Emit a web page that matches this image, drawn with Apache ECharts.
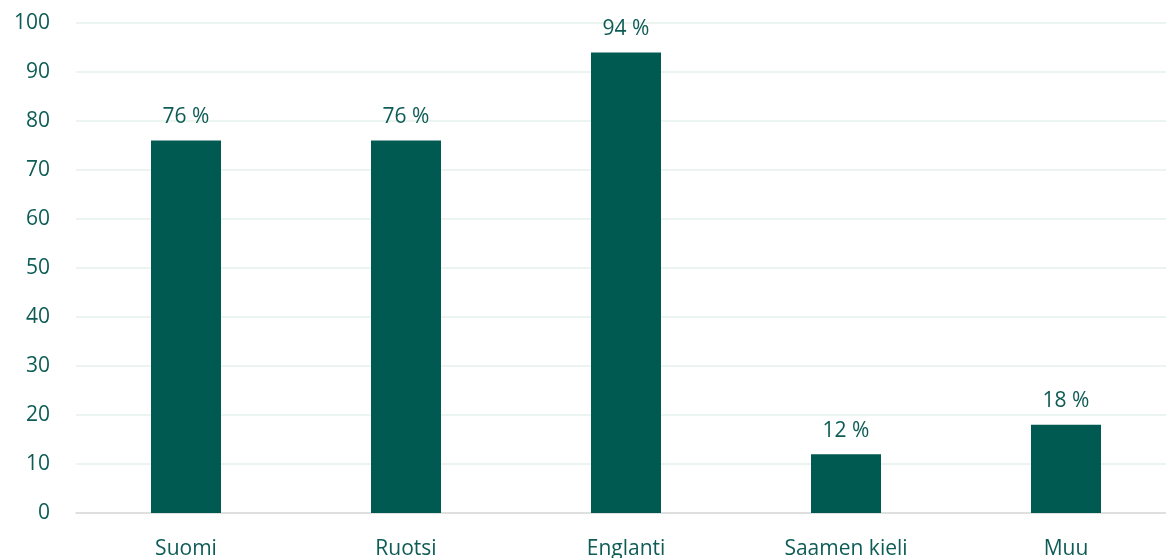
<!DOCTYPE html>
<html>
<head>
<meta charset="utf-8">
<script src="https://cdn.jsdelivr.net/npm/echarts@6/dist/echarts.min.js"></script>
<style>
html, body { margin: 0; padding: 0; background: #fff; overflow: hidden; }
#main { width: 1176px; height: 558px; }
</style>
</head>
<body>
<div id="main"></div>
<script>
var categories = ['Suomi', 'Ruotsi', 'Englanti', 'Saamen kieli', 'Muu'];
var values = [76, 76, 94, 12, 18];
var yTicks = { min: 0, max: 100, step: 10 };

var textColor = '#0E5C56';
var myChart = echarts.init(document.getElementById('main'));
var option = {
    animation: false,
    textStyle: { fontFamily: 'Open Sans' },
    grid: {
        left: 76,
        top: 23,
        right: 0,
        bottom: 45,
        containLabel: false,
        outerBoundsMode: 'none'
    },
    xAxis: {
        type: 'category',
        data: categories,
        axisTick: { show: false },
        axisLine: { lineStyle: { color: '#D9D9D9', width: 1.5 } },
        axisLabel: {
            color: textColor,
            fontSize: 21,
            margin: 26
        }
    },
    yAxis: {
        type: 'value',
        min: yTicks.min,
        max: yTicks.max,
        interval: yTicks.step,
        axisLine: { show: false },
        axisTick: { show: false },
        axisLabel: {
            color: textColor,
            fontSize: 21,
            margin: 26
        },
        splitLine: { lineStyle: { color: '#E4F1EA', width: 1.5 } }
    },
    series: [{
        type: 'bar',
        data: values,
        barWidth: 70,
        itemStyle: { color: '#005A52' },
        label: {
            show: true,
            position: 'top',
            distance: 13,
            color: textColor,
            fontSize: 21,
            formatter: '{c} %'
        }
    }]
};
myChart.setOption(option);
window.onresize = myChart.resize;
</script>
</body>
</html>
